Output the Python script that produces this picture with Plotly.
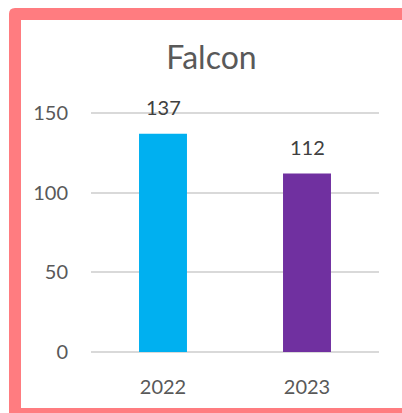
import plotly.graph_objects as go

title = "Falcon"
categories = ["2022", "2023"]
values = [137, 112]
bar_colors = ["#00B0F0", "#7030A0"]
y_ticks = [0, 50, 100, 150]

W, H = 402, 413
SLACK = 3  # px slack so edge gridlines are drawn
L, R = 91, 379
TOP150, BOT0 = 113, 352  # pixel rows of 150 and 0 gridlines
T, B = TOP150 - SLACK, BOT0 + SLACK
Y0, Y1 = 0, 150
px_per_unit = (BOT0 - TOP150) / (Y1 - Y0)
pad_units = SLACK / px_per_unit

def px_x(px):
    return (px - L) / (R - L)

def px_y(py):
    return (B - py) / (B - T)

fig = go.Figure()
fig.add_trace(go.Bar(
    x=categories, y=values,
    marker=dict(color=bar_colors, line=dict(width=0)),
    width=0.333,
    hoverinfo="skip",
))

for i, v in enumerate(values):
    fig.add_annotation(
        x=i, y=v, text=str(v), showarrow=False,
        yanchor="bottom", yshift=13,
        font=dict(family="Lato", size=20, color="#404040"),
    )

border_color = "#FF7C80"
path = (f"M {px_x(9)},{px_y(413)} L {px_x(9)},{px_y(14)} "
        f"Q {px_x(9)},{px_y(8)} {px_x(15)},{px_y(8)} "
        f"L {px_x(402)},{px_y(8)} L {px_x(402)},{px_y(20)} "
        f"L {px_x(21)},{px_y(20)} L {px_x(21)},{px_y(413)} Z")
fig.add_shape(type="path", path=path, xref="paper", yref="paper",
              fillcolor=border_color, line=dict(width=0), layer="above")
fig.add_shape(type="rect", xref="paper", yref="paper",
              x0=px_x(9), x1=px_x(402), y0=px_y(408), y1=px_y(414),
              fillcolor=border_color, line=dict(width=0), layer="above")

fig.update_layout(
    width=W, height=H,
    margin=dict(l=L, r=W - R, t=T, b=H - B, pad=0, autoexpand=False),
    paper_bgcolor="white", plot_bgcolor="white",
    showlegend=False,
    title=dict(text=title, x=211.5 / W, xanchor="center",
               y=1 - 57.5 / H, yanchor="middle", xref="container", yref="container",
               font=dict(family="Lato", size=32, color="#595959")),
    font=dict(family="Lato", size=20, color="#595959"),
    bargap=0.667,
)
fig.update_xaxes(
    type="category", range=[-0.5, len(categories) - 0.5],
    showgrid=False, zeroline=False, showline=False, ticks="",
    tickfont=dict(family="Lato", size=20, color="#595959"),
    ticklabelstandoff=21 - SLACK, automargin=False,
)
fig.update_yaxes(
    range=[Y0 - pad_units, Y1 + pad_units], tickvals=y_ticks,
    showgrid=True, gridcolor="#D9D9D9", gridwidth=1.5,
    zeroline=False, showline=False, ticks="",
    tickfont=dict(family="Lato", size=20, color="#595959"),
    ticklabelstandoff=22, automargin=False,
)

fig.write_html(
    "out.html",
    config={"displayModeBar": False},
    post_script="document.body.style.margin='0';document.body.style.overflow='hidden';",
)
